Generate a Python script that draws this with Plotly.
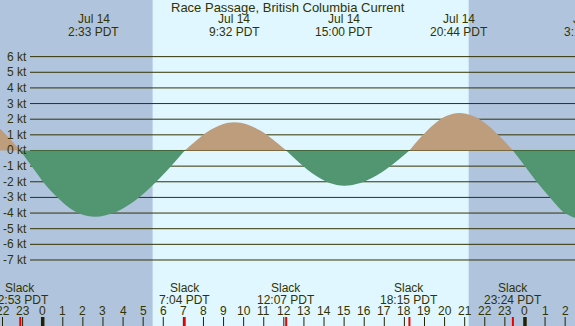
import plotly.graph_objects as go

# ---- data (hours relative to Jul 14 00:00 PDT) ----
hours = [-2.6, -2.13, -1.6, -1.12,
         -0.2, 0.015, 0.72, 1.63, 2.55, 3.68, 4.81, 5.94, 7.07,
         7.69, 8.30, 8.92, 9.53, 10.18, 10.83, 11.47, 12.12,
         12.84, 13.56, 14.28, 15.0, 15.81, 16.63, 17.44, 18.25,
         18.87, 19.49, 20.11, 20.73, 21.40, 22.07, 22.73, 23.4,
         24.0, 24.58, 25.24, 25.99, 26.6, 27.17]
knots = [1.8, 1.4, 0.7, 0.0,
         -1.62, -2.0, -2.99, -3.91, -4.23, -3.91, -2.99, -1.62, 0.0,
         0.69, 1.27, 1.66, 1.8, 1.66, 1.27, 0.69, 0.0,
         -0.86, -1.59, -2.08, -2.25, -2.08, -1.59, -0.86, 0.0,
         0.92, 1.70, 2.22, 2.4, 2.22, 1.70, 0.92, 0.0,
         -1.0, -2.0, -3.0, -4.0, -4.35, -4.45]

slack_hours = [-1.117, 7.067, 12.117, 18.25, 23.4]
slack_labels = ["22:53 PDT", "7:04 PDT", "12:07 PDT", "18:15 PDT", "23:24 PDT"]

peak_hours = [2.55, 9.533, 15.0, 20.733, 27.17]
peak_dates = ["Jul 14", "Jul 14", "Jul 14", "Jul 14", "Jul 15"]
peak_labels = ["2:33 PDT", "9:32 PDT", "15:00 PDT", "20:44 PDT", "3:11 PDT"]

hour_ticks = list(range(-2, 27))
hour_labels = ["22", "23"] + [str(h) for h in range(24)] + ["0", "1", "2"]
midnights = [0, 24]

kt_levels = [6, 5, 4, 3, 2, 1, 0, -1, -2, -3, -4, -5, -6, -7]
kt_labels = [f"{k} kt" for k in kt_levels]

sunrise = 5.47
sunset = 21.2

title = "Race Passage, British Columbia Current"

# ---- styling ----
W, H = 575, 326
X_RANGE = [-2.125, 26.49]
Y_RANGE = [-11.22, 9.62]
NIGHT = "#B0C4DE"
DAY = "#E0F7FF"
FLOOD = "#BE9D7D"
EBB = "#519571"
INK = "#333300"
FONT = dict(family="Liberation Sans, Arial, sans-serif", size=12, color=INK)
TITLE_FONT = dict(family="Liberation Sans, Arial, sans-serif", size=13, color=INK)


def py(px):
    return 1 - px / H


def px_x(t):
    return (t - X_RANGE[0]) / (X_RANGE[1] - X_RANGE[0])


fig = go.Figure()

# split the curve into flood / ebb segments at slack points
segments = []
cur_t, cur_v = [], []
for t, v in zip(hours, knots):
    cur_t.append(t)
    cur_v.append(v)
    if v == 0 and len(cur_t) > 1:
        segments.append((cur_t, cur_v))
        cur_t, cur_v = [t], [v]
if len(cur_t) > 1:
    segments.append((cur_t, cur_v))

for ts, vs in segments:
    positive = sum(vs) > 0
    col = FLOOD if positive else EBB
    fig.add_trace(go.Scatter(
        x=ts, y=vs, mode="lines", line=dict(shape="spline", width=0, color=col),
        fill="tozeroy", fillcolor=col, hoverinfo="skip", showlegend=False))

shapes = []
# night shading
shapes.append(dict(type="rect", xref="x", yref="paper", x0=X_RANGE[0] - 1, x1=sunrise,
                   y0=0, y1=1, fillcolor=NIGHT, line=dict(width=0), layer="below"))
shapes.append(dict(type="rect", xref="x", yref="paper", x0=sunset, x1=X_RANGE[1] + 1,
                   y0=0, y1=1, fillcolor=NIGHT, line=dict(width=0), layer="below"))
# knot grid lines
for k in kt_levels:
    shapes.append(dict(type="line", xref="paper", yref="y", x0=30 / W, x1=1, y0=k, y1=k,
                       line=dict(color=INK, width=1), layer="between"))
# hour ticks
for h in hour_ticks:
    shapes.append(dict(type="line", xref="x", yref="paper", x0=h, x1=h, y0=0, y1=9 / H,
                       line=dict(color="#222200", width=1), layer="above"))
for h in midnights:
    shapes.append(dict(type="line", xref="x", yref="paper", x0=h, x1=h, y0=0, y1=9 / H,
                       line=dict(color="#222200", width=3.5), layer="above"))
for h in slack_hours:
    shapes.append(dict(type="line", xref="x", yref="paper", x0=h, x1=h, y0=0, y1=9 / H,
                       line=dict(color="#EE0000", width=2), layer="above"))

ann = []
ann.append(dict(text=title, xref="paper", yref="paper", x=0.5, y=py(8), showarrow=False,
                xanchor="center", yanchor="middle", font=TITLE_FONT))
for t, d, lab in zip(peak_hours, peak_dates, peak_labels):
    for txt, yy in ((d, 19.5), (lab, 31.5)):
        ann.append(dict(text=txt, xref="paper", yref="paper", x=px_x(t), y=py(yy),
                        showarrow=False, xanchor="center", yanchor="middle", font=FONT))
for t, lab in zip(slack_hours, slack_labels):
    for txt, yy in (("Slack", 288), (lab, 299.5)):
        ann.append(dict(text=txt, xref="paper", yref="paper", x=px_x(t), y=py(yy),
                        showarrow=False, xanchor="center", yanchor="middle", font=FONT))
for h, lab in zip(hour_ticks, hour_labels):
    ann.append(dict(text=lab, xref="paper", yref="paper", x=px_x(h), y=py(311),
                    showarrow=False, xanchor="center", yanchor="middle", font=FONT))
for k, lab in zip(kt_levels, kt_labels):
    ann.append(dict(text=lab, xref="paper", yref="y", x=28.5 / W, y=k,
                    showarrow=False, xanchor="right", yanchor="middle", font=FONT))

fig.update_layout(
    width=W, height=H, margin=dict(l=0, r=0, t=0, b=0),
    paper_bgcolor=DAY, plot_bgcolor=DAY,
    xaxis=dict(range=X_RANGE, visible=False, fixedrange=True),
    yaxis=dict(range=Y_RANGE, visible=False, fixedrange=True),
    shapes=shapes, annotations=ann, font=FONT, showlegend=False,
)

fig.write_html("out.html", config={"displayModeBar": False},
               post_script="document.body.style.margin='0';document.body.style.overflow='hidden';")
